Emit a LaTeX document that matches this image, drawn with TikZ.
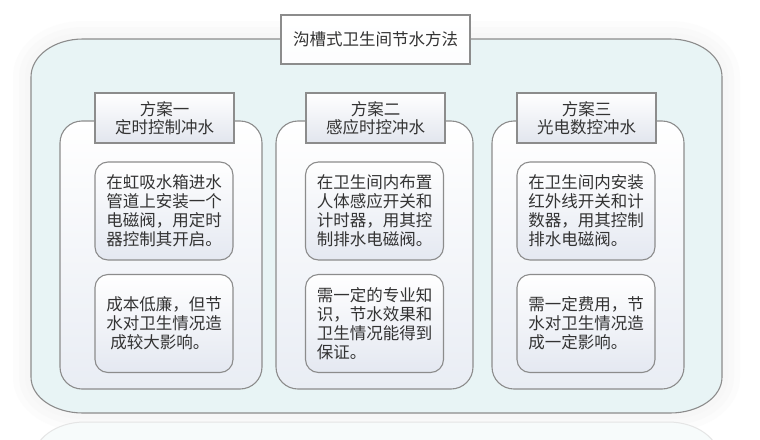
\documentclass[tikz,border=0pt]{standalone}
\usepackage{fontspec}
\newfontfamily\cjk{Noto Sans CJK SC}
\definecolor{bord}{HTML}{8C8C8C}
\definecolor{bigfill}{HTML}{E8F4F5}
\definecolor{txt}{HTML}{333333}
\definecolor{colbot}{HTML}{E9EDF4}
\definecolor{inbot}{HTML}{E4E8F1}
\definecolor{hdbot}{HTML}{E2E6EE}
\definecolor{halo}{HTML}{F7F7F7}
\begin{document}
\begin{tikzpicture}[x=1pt,y=-1pt,
  every node/.style={font=\cjk\fontsize{16.5}{19}\selectfont, text=txt},
  column/.style={draw=bord, line width=1.1pt, rounded corners=22pt, top color=white, bottom color=colbot, inner sep=0pt},
  header/.style={draw=bord, line width=1.1pt, top color=white, bottom color=hdbot, align=center, inner sep=0pt,
     minimum width=139pt, minimum height=50pt, font=\cjk\fontsize{16.5}{18}\selectfont},
  detail/.style={draw=bord, line width=1.1pt, rounded corners=13pt, top color=white, bottom color=inbot, align=left,
     inner sep=0pt, minimum width=138pt, minimum height=98pt},
  bigline/.style={draw=bord, line width=1.1pt, fill=bigfill},
]
\useasboundingbox (0,0) rectangle (760,439);
\begin{scope}
\clip (0,0) rectangle (760,439);
\fill[white] (0,0) rectangle (760,439);
% soft halo
\foreach \w/\o in {36/0.35, 24/0.5, 12/0.7}{
\draw[halo, line width=\w pt, line join=round, opacity=\o]
  (83,39) -- (670,39) .. controls (699,39) and (722,56) .. (722,77)
  -- (722,377) .. controls (722,397) and (699,413) .. (670,413)
  -- (83,413) .. controls (54,413) and (31,397) .. (31,377)
  -- (31,77) .. controls (31,56) and (54,39) .. (83,39) -- cycle;
}
% reflection
\draw[black!10, line width=1pt, fill=bigfill!35]
  (33,470) -- (33,460) .. controls (33,439) and (56,422) .. (85,422)
  -- (668,422) .. controls (697,422) and (720,439) .. (720,460) -- (720,470);
\end{scope}
% big container
\node[minimum width=691pt, minimum height=374pt, inner sep=0pt] (big) at (376.5,226) {};
\path[bigline]
  (83,39) -- (670,39) .. controls (699,39) and (722,56) .. (722,77)
  -- (722,377) .. controls (722,397) and (699,413) .. (670,413)
  -- (83,413) .. controls (54,413) and (31,397) .. (31,377)
  -- (31,77) .. controls (31,56) and (54,39) .. (83,39) -- cycle;
% title
\node[draw=bord, line width=1.1pt, top color=white, bottom color=white!92!hdbot, inner sep=0pt,
      minimum width=189pt, minimum height=49pt] (title) at (375.5,39.5) {沟槽式卫生间节水方法};
% columns
\node[column, minimum width=202pt, minimum height=268pt] (c1) at (161,255) {};
\node[column, minimum width=197pt, minimum height=268pt] (c2) at (374.5,255) {};
\node[column, minimum width=192pt, minimum height=268pt] (c3) at (588,255) {};
% headers
\node[header] (h1) at (164.5,118) {方案一\\定时控制冲水};
\node[header] (h2) at (375.5,118) {方案二\\感应时控冲水};
\node[header] (h3) at (586.5,118) {方案三\\光电数控冲水};
% details
\node[detail] (d1a) at (164,211) {在虹吸水箱进水\\管道上安装一个\\电磁阀，用定时\\器控制其开启。};
\node[detail] (d1b) at (164,323.5) {成本低廉，但节\\水对卫生情况造\\\hspace*{4pt}成较大影响。};
\node[detail] (d2a) at (374.5,211) {在卫生间内布置\\人体感应开关和\\计时器，用其控\\制排水电磁阀。};
\node[detail] (d2b) at (374.5,323.5) {需一定的专业知\\识，节水效果和\\卫生情况能得到\\保证。};
\node[detail] (d3a) at (586,211) {在卫生间内安装\\红外线开关和计\\数器，用其控制\\排水电磁阀。};
\node[detail] (d3b) at (586,323.5) {需一定费用，节\\水对卫生情况造\\成一定影响。};
\end{tikzpicture}
\end{document}
